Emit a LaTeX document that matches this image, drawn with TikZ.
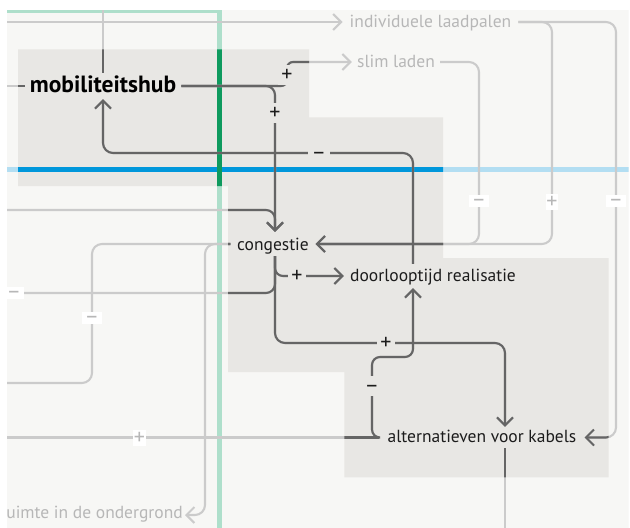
\documentclass[tikz,border=0pt]{standalone}
\usepackage{fontspec}
\setmainfont{PT Sans}
\usetikzlibrary{arrows.meta}

\definecolor{pagebg}{HTML}{F7F7F5}
\definecolor{hl}{HTML}{E8E7E4}
\definecolor{lineL}{HTML}{CBCBCB}
\definecolor{lineD}{HTML}{656565}
\definecolor{txtL}{HTML}{B7B7B7}
\definecolor{txtD}{HTML}{1C1C1C}
\definecolor{blueD}{HTML}{0097DB}
\definecolor{blueL}{HTML}{B3DEF2}
\definecolor{greenD}{HTML}{0E9A5E}
\definecolor{greenL}{HTML}{AEDFCB}

% highlighted part of the loop diagram
\newcommand\hlregion{(18,49.3) -- (309,49.3) -- (309,117.3) -- (443,117.3) -- (443,258) -- (608.5,258) -- (608.5,477.3) -- (344.3,477.3) -- (344.3,372) -- (228,372) -- (228,186) -- (18,186) -- cycle}

% all causal links; drawn once pale, once dark inside the highlight
\newcommand\causallinks{%
  \draw[link,->] (offInd) -- (ind.west);
  \draw[link] (mob.north) -- (offTop);
  \draw[link] (mob.west) -- (offMobL);
  \draw[link,->,rounded corners=9pt] (mob.east) -| ([xshift=2pt]cong.north);
  \draw[link,->,rounded corners=6pt] (mob.east) -| (287,62) -- (slim.west);
  \draw[link,->,rounded corners=10pt] ([xshift=-20pt]dlr.north) -- (413,153) -| (mob.south);
  \draw[link,->,rounded corners=9pt] (offCongTop) -| ([xshift=2pt]cong.north);
  \draw[link,->,rounded corners=8pt] ([xshift=2pt]cong.south) |- (dlr.west);
  \draw[link,rounded corners=9pt] ([xshift=2pt]cong.south) |- (offCongL1);
  \draw[link,->,rounded corners=10pt] ([xshift=2pt]cong.south) -- (275,343) -| ([xshift=23pt]alt.north);
  \draw[link,->,rounded corners=8pt] (alt.west) -| (372,357) -| ([xshift=-20pt]dlr.south);
  \draw[link] (alt.west) -- (offAltL);
  \draw[link] ([xshift=23pt]alt.south) -- (offAltB);
  \draw[link,->,rounded corners=10pt] (ind.east) -| (552,244) -- (cong.east);
  \draw[link,->,rounded corners=10pt] (ind.east) -| (616,437.5) -- (alt.east);
  \draw[link,->,rounded corners=10pt] (slim.east) -| (479,244) -- (cong.east);
  \draw[link,->,rounded corners=10pt] (cong.west) -| (205,515) -- (ruim.east);
  \draw[link,rounded corners=10pt] (cong.west) -| (92,383) -- (offCongL2);
}

\begin{document}
\begin{tikzpicture}[x=1pt,y=-1pt,
  >={Straight Barb[length=8pt,width=16pt]},
  link/.style={line width=2.1pt,draw=lineL},
  lbl/.style={inner ysep=0pt,font=\fontsize{17.5}{20}\selectfont},
  sgn/.style={font=\fontsize{22}{24}\selectfont,text height=12.3pt,text depth=-2.3pt},
  sgnL/.style={sgn,fill=white,text=txtL,inner xsep=0.8pt,inner ysep=1.5pt},
  sgnLm/.style={sgnL,inner xsep=2.5pt,text height=11.5pt,text depth=-2.5pt,inner ysep=0.5pt},
  sgnD/.style={sgn,fill=hl,text=txtD,inner xsep=3.5pt,inner ysep=4pt}]
\useasboundingbox (0,0) rectangle (630,528);
\fill[white] (0,0) rectangle (630,528);
\begin{scope}
\clip (7,10) rectangle (628.5,528);
\fill[pagebg] (0,0) rectangle (630,528);
\fill[hl] \hlregion;

% cluster borders
\draw[blueL,line width=5pt] (0,169.5) -- (630,169.5);
\draw[greenL,line width=4.4pt] (0,10.3) -- (219.5,10.3) -- (219.5,530);
\begin{scope}
  \clip \hlregion;
  \draw[blueD,line width=5pt] (0,169.5) -- (630,169.5);
  \draw[greenD,line width=4.4pt] (0,10.3) -- (219.5,10.3) -- (219.5,530);
\end{scope}

% factors
\node[lbl,font=\fontsize{23.5}{27}\selectfont\bfseries,text=black,anchor=base,
      text height=19pt,text depth=7pt,inner xsep=5pt] (mob) at (103,92) {mobiliteitshub};
\node[lbl,text=txtL,anchor=base,text height=10pt,text depth=0pt,inner xsep=7pt]
      (ind) at (430.5,27) {individuele laadpalen};
\node[lbl,text=txtL,anchor=base,text height=10pt,text depth=0pt,inner xsep=5pt]
      (slim) at (396,67) {slim laden};
\node[lbl,text=txtD,anchor=base,text height=18pt,text depth=6pt,inner xsep=6.5pt]
      (cong) at (273,250) {congestie};
\node[lbl,text=txtD,anchor=base,text height=17pt,text depth=7pt,inner xsep=6pt]
      (dlr) at (433,281) {doorlooptijd realisatie};
\node[lbl,text=txtD,anchor=base,text height=15pt,text depth=6pt,inner xsep=8pt]
      (alt) at (482,442) {alternatieven voor kabels};
\node[lbl,text=txtL,anchor=base east,text height=6pt,text depth=0pt,inner xsep=2pt]
      (ruim) at (185,518) {ruimte in de ondergrond};

% loose ends leaving the picture
\coordinate (offInd) at (0,22);
\coordinate (offTop) at (103,0);
\coordinate (offMobL) at (0,86);
\coordinate (offCongTop) at (0,210);
\coordinate (offCongL1) at (0,293);
\coordinate (offCongL2) at (0,383);
\coordinate (offAltL) at (0,437.5);
\coordinate (offAltB) at (505,530);

\causallinks
\begin{scope}[link/.style={line width=2.1pt,draw=lineD}]
  \clip \hlregion;
  \causallinks
\end{scope}

% polarity signs
\node[sgnD] (sg1) at (275,113) {+};
\node[sgnD] (sg2) at (287,75) {+};
\node[sgnD] (sg3) at (319,153) {–};
\node[sgnD] (sg4) at (297,276) {+};
\node[sgnD] (sg5) at (386,343) {+};
\node[sgnD] (sg6) at (372,386) {–};
\node[sgnLm] (sg7) at (479,201) {–};
\node[sgnL] (sg8) at (552,202) {+};
\node[sgnLm] (sg9) at (616,201) {–};
\node[sgnLm] (sg10) at (14,293) {–};
\node[sgnLm] (sg11) at (92,318) {–};
\node[sgnL] (sg12) at (139.5,438) {+};
\end{scope}
\end{tikzpicture}
\end{document}
